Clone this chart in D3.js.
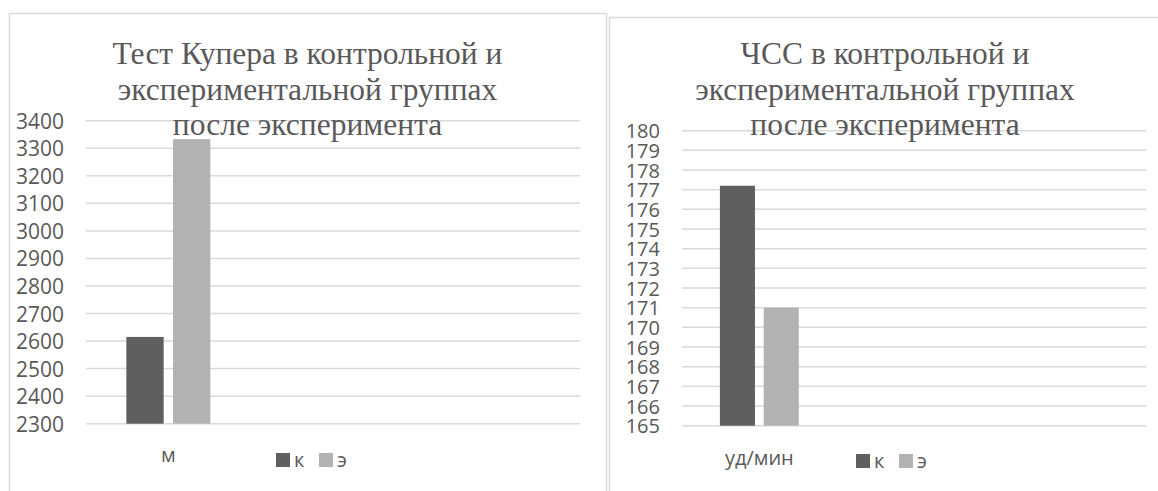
<!DOCTYPE html>
<html>
<head>
<meta charset="utf-8">
<script src="https://cdn.jsdelivr.net/npm/d3@7"></script>
<style>
  body { margin: 0; background: #fff; }
  svg { display: block; }
</style>
</head>
<body>
<div id="svg-area"></div>
<script>
var svgWidth = 1158;
var svgHeight = 491;

// series (legend) names
var seriesNames = ["к", "э"];
var seriesColors = ["#5f5f5f", "#b2b2b2"];

// Cooper test chart
var cooperTitle = ["Тест Купера в контрольной и", "экспериментальной группах", "после эксперимента"];
var cooperCategories = ["м", "", ""];
var cooperK = [2615, null, null];
var cooperE = [3333, null, null];
var cooperTicks = [2300, 2400, 2500, 2600, 2700, 2800, 2900, 3000, 3100, 3200, 3300, 3400];

// heart rate chart
var hrTitle = ["ЧСС в контрольной и", "экспериментальной группах", "после эксперимента"];
var hrCategories = ["уд/мин", "", ""];
var hrK = [177.2, null, null];
var hrE = [171.0, null, null];
var hrTicks = [165, 166, 167, 168, 169, 170, 171, 172, 173, 174, 175, 176, 177, 178, 179, 180];

var textColor = "#595959";
var gridColor = "#d9d9d9";
var sansFont = "'Open Sans', 'Liberation Sans', sans-serif";
var serifFont = "'Liberation Serif', 'DejaVu Serif', serif";

var svg = d3.select("#svg-area").append("svg")
  .attr("width", svgWidth)
  .attr("height", svgHeight);

svg.append("rect").attr("width", svgWidth).attr("height", svgHeight).attr("fill", "#fff");

function drawChart(opt) {
  var g = svg.append("g");

  // panel border
  g.append("rect")
    .attr("x", opt.panel[0] + 0.5).attr("y", opt.panel[1] + 0.5)
    .attr("width", opt.panel[2]).attr("height", opt.panel[3])
    .attr("fill", "#fff")
    .attr("stroke", gridColor)
    .attr("stroke-width", 1.5);

  var yScale = d3.scaleLinear()
    .domain([opt.ticks[0], opt.ticks[opt.ticks.length - 1]])
    .range([opt.bottom, opt.top]);

  var x0 = d3.scaleBand()
    .domain(d3.range(opt.categories.length))
    .range([opt.left, opt.right]);

  // gridlines
  g.selectAll(".grid")
    .data(opt.ticks)
    .enter()
    .append("line")
    .attr("x1", opt.left)
    .attr("x2", opt.right)
    .attr("y1", function(d) { return yScale(d); })
    .attr("y2", function(d) { return yScale(d); })
    .attr("stroke", gridColor)
    .attr("stroke-width", 1.5);

  // y axis labels
  var yAxis = d3.axisLeft(yScale)
    .tickValues(opt.ticks)
    .tickFormat(d3.format("d"))
    .tickSize(0)
    .tickPadding(22);
  var ya = g.append("g")
    .attr("transform", "translate(" + opt.left + ",0)")
    .call(yAxis);
  ya.attr("font-family", null).attr("font-size", null);
  ya.select(".domain").remove();
  ya.selectAll("text")
    .attr("fill", textColor)
    .attr("dy", "0.36em")
    .attr("font-family", sansFont)
    .attr("font-size", opt.tickSize);

  // bars
  var values = [opt.k, opt.e];
  opt.categories.forEach(function(cat, i) {
    var center = x0(i) + x0.bandwidth() / 2;
    var cluster = x0.bandwidth() * 0.51;
    var x1 = d3.scaleBand()
      .domain(seriesNames)
      .range([center - cluster / 2, center + cluster / 2])
      .paddingInner(0.2);

    seriesNames.forEach(function(s, j) {
      var v = values[j][i];
      if (v == null) return;
      g.append("rect")
        .attr("x", x1(s))
        .attr("width", x1.bandwidth())
        .attr("y", yScale(v))
        .attr("height", yScale(opt.ticks[0]) - yScale(v))
        .attr("fill", seriesColors[j]);
    });

    g.append("text")
      .attr("x", center)
      .attr("y", opt.catY)
      .attr("text-anchor", "middle")
      .attr("fill", textColor)
      .attr("font-family", sansFont)
      .attr("font-size", 20)
      .text(cat);
  });

  // title, drawn over the grid
  var cx = opt.panel[0] + opt.panel[2] / 2;
  g.selectAll(".title")
    .data(opt.title)
    .enter()
    .append("text")
    .attr("x", cx)
    .attr("y", function(d, i) { return opt.titleY + i * 35.5; })
    .attr("text-anchor", "middle")
    .attr("fill", textColor)
    .attr("font-family", serifFont)
    .attr("font-size", 31.5)
    .text(function(d) { return d; });

  // legend
  var lg = g.append("g").attr("transform", "translate(" + opt.legendX + "," + opt.legendY + ")");
  var item = lg.selectAll("g")
    .data(seriesNames)
    .enter()
    .append("g")
    .attr("transform", function(d, i) { return "translate(" + (i * 43) + ",0)"; });
  item.append("rect")
    .attr("width", 14).attr("height", 14)
    .attr("y", -14)
    .attr("fill", function(d, i) { return seriesColors[i]; });
  item.append("text")
    .attr("x", 18)
    .attr("y", 0)
    .attr("fill", textColor)
    .attr("font-family", sansFont)
    .attr("font-size", 20)
    .text(function(d) { return d; });
}

drawChart({
  panel: [9, 13, 597, 520],
  title: cooperTitle,
  titleY: 64,
  categories: cooperCategories,
  k: cooperK,
  e: cooperE,
  ticks: cooperTicks,
  tickSize: 21,
  left: 86, right: 580, top: 120.7, bottom: 423.7,
  catY: 462,
  legendX: 276, legendY: 467
});

drawChart({
  panel: [609, 17, 552, 520],
  title: hrTitle,
  titleY: 64,
  categories: hrCategories,
  k: hrK,
  e: hrE,
  ticks: hrTicks,
  tickSize: 20,
  left: 682, right: 1146, top: 130.7, bottom: 425.7,
  catY: 465,
  legendX: 856, legendY: 468
});
</script>
</body>
</html>
